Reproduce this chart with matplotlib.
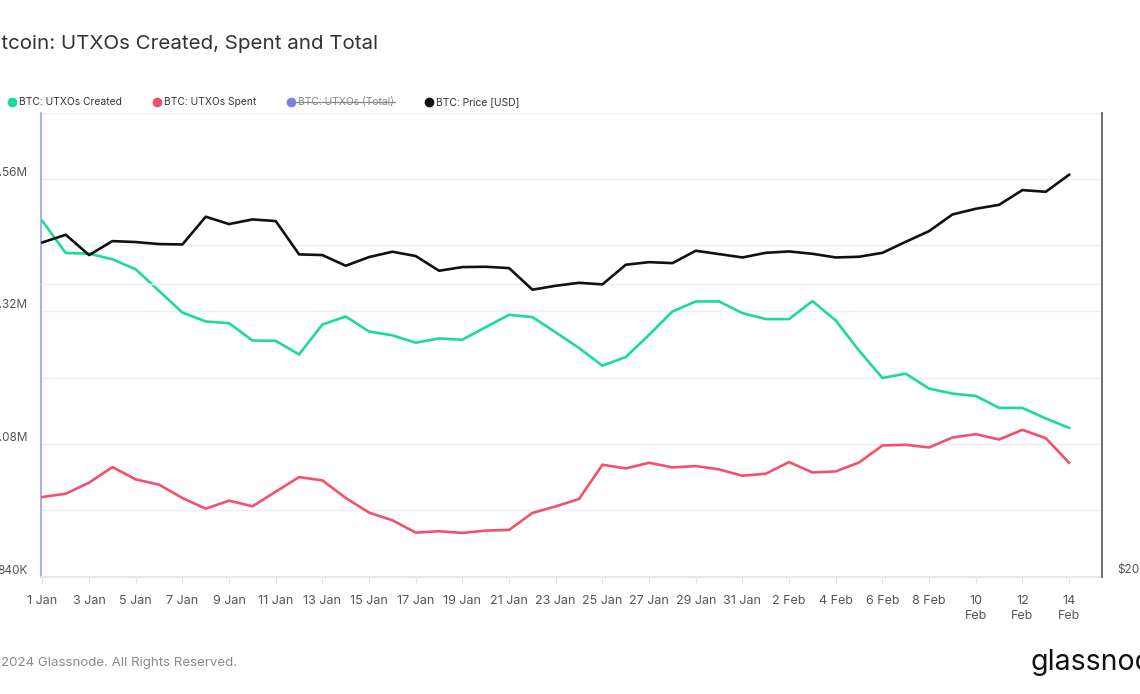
import numpy as np
import matplotlib
matplotlib.use("Agg")
import matplotlib.pyplot as plt
from matplotlib.ticker import NullLocator
from matplotlib.lines import Line2D

plt.rcParams['font.family'] = ['Inter', 'DejaVu Sans']

# daily values, 1 Jan .. 14 Feb 2024
created = [1483500, 1425700, 1424500, 1414200, 1396100, 1357000, 1317800, 1301600, 1298600, 1267200,
           1266600, 1242000, 1296200, 1310600, 1283500, 1276600, 1263200, 1271000, 1268600, 1291500,
           1313800, 1309600, 1281900, 1253600, 1221700, 1237300, 1277500, 1319800, 1337900, 1337900,
           1316800, 1306000, 1306000, 1338500, 1303500, 1248800, 1199400, 1207200, 1180100, 1171100,
           1166900, 1145200, 1145200, 1126000, 1109100]
spent = [983900, 989900, 1009800, 1038100, 1015800, 1006200, 982100, 962800, 977300, 967000,
         993500, 1020000, 1014000, 982100, 955600, 941700, 919500, 921900, 918900, 923100,
         924300, 955000, 967000, 980300, 1042300, 1035700, 1045900, 1037500, 1039900, 1033900,
         1022400, 1026000, 1047100, 1028400, 1030200, 1046500, 1077200, 1078400, 1073600, 1091600,
         1097700, 1088000, 1105500, 1090400, 1045900]
price = [44110, 44920, 42810, 44250, 44150, 43940, 43900, 46880, 46070, 46580,
         46400, 42880, 42810, 41740, 42610, 43150, 42710, 41250, 41610, 41640,
         41510, 39440, 39810, 40090, 39940, 41840, 42100, 42000, 43250, 42910,
         42570, 43040, 43180, 42940, 42570, 42640, 43040, 44180, 45310, 47130,
         47770, 48220, 49930, 49730, 51780]

xlabels = ["1 Jan", "3 Jan", "5 Jan", "7 Jan", "9 Jan", "11 Jan", "13 Jan", "15 Jan", "17 Jan",
           "19 Jan", "21 Jan", "23 Jan", "25 Jan", "27 Jan", "29 Jan", "31 Jan", "2 Feb", "4 Feb",
           "6 Feb", "8 Feb", "10\nFeb", "12\nFeb", "14\nFeb"]
left_ticks = [840000, 960000, 1080000, 1200000, 1320000, 1440000, 1560000, 1680000]
left_labels = ["840K", "", "1.08M", "", "1.32M", "", "1.56M", ""]
right_ticks = [20000, 40000]
right_labels = ["$20K", ""]

GREEN = '#1ddb95'
RED = '#f5506b'
BLUE = '#7c80f2'
BLACK = '#111111'
GRID = '#efefef'

W, H = 1140, 694
fig = plt.figure(figsize=(W / 100, H / 100), dpi=100)
ax = fig.add_axes([41 / W, (H - 576.5) / H, (1102 - 41) / W, 464 / H])

days = np.arange(len(created))
ax.plot(days, created, color=GREEN, lw=1.9, zorder=3)
ax.plot(days, spent, color=RED, lw=1.9, zorder=3)

ax.set_xlim(-0.06, 45.41)
ax.set_ylim(840000, 1680000)
ax.set_yticks(left_ticks)
ax.set_yticklabels(left_labels)
ax.set_xticks(days[::2])
ax.set_xticklabels(xlabels, linespacing=1.35)
ax.grid(axis='y', color=GRID, lw=1)
ax.set_axisbelow(True)
ax.tick_params(axis='y', length=0, pad=9.6, labelsize=8.5, labelcolor='#555555')
ax.tick_params(axis='x', length=5, color='#e3e3e3', pad=8, labelsize=9, labelcolor='#555555')
for t in ax.yaxis.get_major_ticks():
    t.label1.set_verticalalignment('bottom')

for s in ['top', 'right']:
    ax.spines[s].set_visible(False)
ax.spines['left'].set_color('#9a9df6')
ax.spines['left'].set_linewidth(1.2)
ax.spines['bottom'].set_color('#e3e3e3')
ax.spines['bottom'].set_linewidth(1.2)

# price on a log scale, right axis
ax2 = ax.twinx()
ax2.plot(days, price, color=BLACK, lw=1.9, zorder=4)
ax2.set_yscale('log')
ax2.set_ylim(20000, 60000)
ax2.yaxis.set_minor_locator(NullLocator())
ax2.set_yticks(right_ticks)
ax2.set_yticklabels(right_labels)
ax2.grid(axis='y', color=GRID, lw=1)
ax2.set_axisbelow(True)
ax2.tick_params(axis='y', length=0, pad=11, labelsize=8.5, labelcolor='#555555')
for t in ax2.yaxis.get_major_ticks():
    t.label2.set_verticalalignment('bottom')
for s in ['top', 'left', 'bottom']:
    ax2.spines[s].set_visible(False)
ax2.spines['right'].set_color('#555555')
ax2.spines['right'].set_linewidth(1.2)


def fx(x):
    return x / W


def fy(y):
    return 1 - y / H


# title and legend
fig.text(fx(378), fy(44), "Bitcoin: UTXOs Created, Spent and Total", ha='right', va='center',
         fontsize=14.8, color='#333333')

legend = [("BTC: UTXOs Created", GREEN, 12), ("BTC: UTXOs Spent", RED, 157),
          ("BTC: UTXOs (Total)", BLUE, 291), ("BTC: Price [USD]", BLACK, 429)]
for name, col, x0 in legend:
    fig.add_artist(Line2D([fx(x0)], [fy(102)], marker='o', ms=6, color=col, mec=col,
                          transform=fig.transFigure))
    hidden = "Total" in name
    fig.text(fx(x0 + 7), fy(102), name, ha='left', va='center', fontsize=7.4,
             color='#888888' if hidden else '#333333')
    if hidden:
        fig.add_artist(Line2D([fx(x0 - 4), fx(395)], [fy(102), fy(102)], color='#888888', lw=0.9,
                              transform=fig.transFigure))

# footer
fig.text(fx(237), fy(663), "© 2024 Glassnode. All Rights Reserved.", ha='right', va='center',
         fontsize=9.6, color='#8a8a8a')
fig.text(fx(1030), fy(663), "glassnode", ha='left', va='center', fontsize=20.5, color='#111111')

fig.savefig("out.png", dpi=100)
